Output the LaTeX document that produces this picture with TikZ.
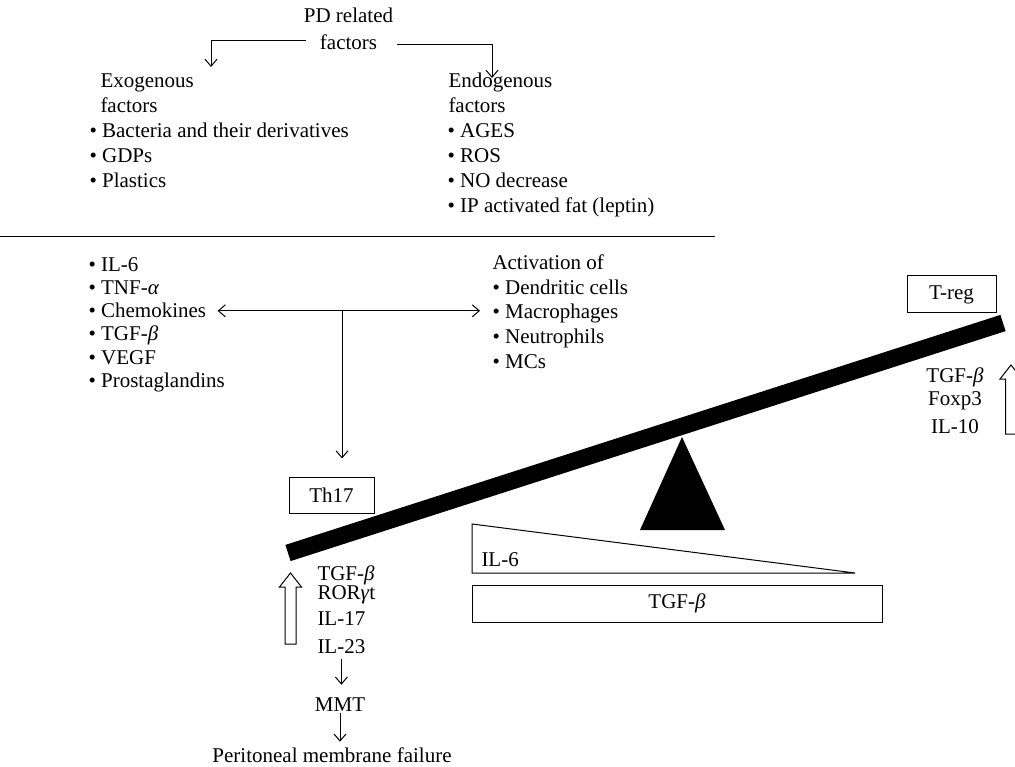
\documentclass[tikz,border=0pt]{standalone}
\usepackage{fontspec}
\setmainfont{Liberation Serif}
\usetikzlibrary{arrows.meta}

\begin{document}
\begin{tikzpicture}[x=1pt,y=-1pt,line width=1pt,
		>={Straight Barb[length=7pt,width=12pt]},
		lbl/.style={inner sep=0pt,anchor=base west,font=\fontsize{21}{25}\selectfont},
		cbox/.style={draw,inner sep=0pt,font=\fontsize{21}{25}\selectfont},
		hollow/.style={draw,fill=white,line width=1pt}]
	\useasboundingbox (0,0) rectangle (1015,767);
	\clip (0,0) rectangle (1015,767);
	% factors
	\node[lbl,anchor=base] (pd1) at (348.5,23) {PD related};
	\node[lbl,anchor=base] (pd2) at (348.5,50) {factors};
	\coordinate (exotip) at (211,67);
	\coordinate (endotip) at (492,78);
	\draw[->,shorten <=13pt] ([yshift=2.5pt]pd2.west) -| (exotip);
	\draw[->,shorten <=19pt] ([yshift=-1.5pt]pd2.east) -| (endotip);
	\node[lbl] (exo1) at (100,88) {Exogenous};
	\node[lbl] (exo2) at (100,113) {factors};
	\foreach \t [count=\i from 3] in {Bacteria and their derivatives,GDPs,Plastics}
		\node[lbl] (exo\i) at (89,88+25*\i-25) {\textbullet\ \t};
	\node[lbl] (endo1) at (448,88) {Endogenous};
	\node[lbl] (endo2) at (448,113) {factors};
	\foreach \t [count=\i from 3] in {AGES,ROS,NO decrease,IP activated fat (leptin)}
		\node[lbl] (endo\i) at (447,88+25*\i-25) {\textbullet\ \t};
	\draw (0,237) -- (715,237);
	% mediators
	\foreach \t [count=\i] in {IL-6,TNF-\textit{α},Chemokines,TGF-\textit{β},VEGF,Prostaglandins}
		\node[lbl] (cyt\i) at (88,272+23*\i-23) {\textbullet\ \t};
	\node[lbl] (act1) at (492,270) {Activation of};
	\foreach \t [count=\i from 2] in {Dendritic cells,Macrophages,Neutrophils,MCs}
		\node[lbl] (act\i) at (492,270+24.5*\i-24.5) {\textbullet\ \t};
	\draw[<->,shorten <=11pt,shorten >=12pt] (cyt3.east) -- (cyt3.east -| act3.west);
	\coordinate (split) at (342,0 |- cyt3.east);
	% balance
	\node[cbox,minimum width=85pt,minimum height=36pt] (th17) at (331.5,495) {Th17};
	\node[cbox,minimum width=89pt,minimum height=37pt] (treg) at (951.5,294.5) {T-reg};
	\draw[->,shorten >=18pt] (split) -- (split |- th17.north);
	\draw[line width=17pt] (288,553) -- (1003,323);
	\fill (682,437) -- (640,530) -- (725,530) -- cycle;
	\draw (472,524) -- (855,573) -- (472,573) -- cycle;
	\node[lbl] (il6) at (481,566) {IL-6};
	\node[cbox,minimum width=410pt,minimum height=37pt] (tgfbox) at (677,603.5) {TGF-\textit{β}};
	% Th17 side
	\foreach \t/\y [count=\i] in {TGF-\textit{β}/580,ROR\textit{γ}t/599,IL-17/625,IL-23/653}
		\node[lbl] (th\i) at (317,\y) {\t};
	\node[lbl,anchor=base] (mmt) at (340,711) {MMT};
	\node[lbl,anchor=base] (fail) at (332,762) {Peritoneal membrane failure};
	\draw[->,shorten <=5pt,shorten >=12pt] (th4.south) -- (th4.south |- mmt.north);
	\draw[->,shorten <=1pt,shorten >=5pt] (mmt.south) -- (mmt.south |- fail.north);
	% T-reg side
	\foreach \t/\y [count=\i] in {TGF-\textit{β}/382,Foxp3/406,IL-10/433}
		\node[lbl,anchor=base] (tr\i) at (955,\y) {\t};
	\foreach \cx/\ty/\by in {290.5/573/644,1011/365/434}
		\draw[hollow] (\cx,\ty) -- (\cx+11,\ty+14) -- (\cx+5.5,\ty+14) -- (\cx+5.5,\by) -- (\cx-5.5,\by) -- (\cx-5.5,\ty+14) -- (\cx-11,\ty+14) -- cycle;
\end{tikzpicture}
\end{document}
